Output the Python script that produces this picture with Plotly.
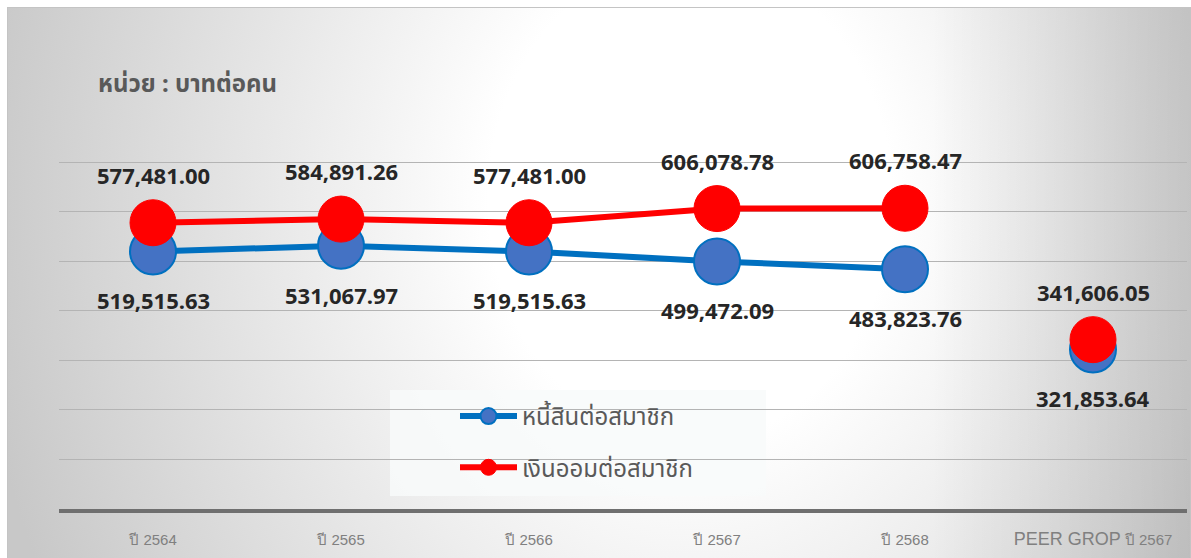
import base64
import plotly.graph_objects as go

categories = ["ปี 2564", "ปี 2565", "ปี 2566", "ปี 2567", "ปี 2568", "PEER GROP ปี 2567"]
tick_labels = ["ปี 2564", "ปี 2565", "ปี 2566", "ปี 2567", "ปี 2568",
               "<span style='font-family:Liberation Sans;font-size:18px'>PEER GROP</span> ปี 2567"]
debt_per_member = [519515.63, 531067.97, 519515.63, 499472.09, 483823.76, 321853.64]
savings_per_member = [577481.00, 584891.26, 577481.00, 606078.78, 606758.47, 341606.05]
series_names = ["หนี้สินต่อสมาชิก", "เงินออมต่อสมาชิก"]
unit_title = "หน่วย : บาทต่อคน"

W, H = 1191, 558
L, R, T, B = 59, 4, 130, 49
PW, PH = W - L - R, H - T - B

BLUE_LINE = "#0070C0"
BLUE_FILL = "#4472C4"
RED = "#FF0000"

fig = go.Figure()

main_n = 5
fig.add_trace(go.Scatter(
    x=categories[:main_n], y=debt_per_member[:main_n], name=series_names[0],
    mode="lines+markers", legendgroup="a",
    line=dict(color=BLUE_LINE, width=6),
    marker=dict(size=46, color=BLUE_FILL, line=dict(color=BLUE_LINE, width=2)),
    hoverinfo="skip"))
fig.add_trace(go.Scatter(
    x=categories[main_n:], y=debt_per_member[main_n:], name=series_names[0],
    mode="markers", legendgroup="a", showlegend=False,
    marker=dict(size=46, color=BLUE_FILL, line=dict(color=BLUE_LINE, width=2)),
    hoverinfo="skip"))
fig.add_trace(go.Scatter(
    x=categories[:main_n], y=savings_per_member[:main_n], name=series_names[1],
    mode="lines+markers", legendgroup="b",
    line=dict(color=RED, width=6),
    marker=dict(size=46, color=RED, line=dict(color=RED, width=1)),
    hoverinfo="skip"))
fig.add_trace(go.Scatter(
    x=categories[main_n:], y=savings_per_member[main_n:], name=series_names[1],
    mode="markers", legendgroup="b", showlegend=False,
    marker=dict(size=46, color=RED, line=dict(color=RED, width=1)),
    hoverinfo="skip"))

LABEL_FONT = dict(family="Open Sans, Liberation Sans, sans-serif", size=22, color="#262626")
annotations = []
for c, v in zip(categories, savings_per_member):
    annotations.append(dict(x=c, y=v, xref="x", yref="y", text=f"<b>{v:,.2f}</b>",
                            showarrow=False, yshift=48, font=LABEL_FONT))
for c, v in zip(categories, debt_per_member):
    annotations.append(dict(x=c, y=v, xref="x", yref="y", text=f"<b>{v:,.2f}</b>",
                            showarrow=False, yshift=-49, font=LABEL_FONT))
annotations.append(dict(x=(96 - L) / PW, y=(H - B - 83) / PH, xref="paper", yref="paper",
                        xanchor="left", yanchor="middle", text=f"<b>{unit_title}</b>",
                        showarrow=False,
                        font=dict(family="Noto Sans, Noto Sans Thai, sans-serif", size=24, color="#595959")))

svg = """<svg xmlns='http://www.w3.org/2000/svg' width='1184' height='551' viewBox='0 0 1184 551' preserveAspectRatio='none'>
<defs>
<radialGradient id='g' gradientUnits='userSpaceOnUse' cx='683' cy='193' r='720' fx='683' fy='193'
 gradientTransform='translate(683 193) scale(1 1.2) translate(-683 -193)'>
<stop offset='0' stop-color='#ffffff'/><stop offset='0.28' stop-color='#ffffff'/>
<stop offset='1' stop-color='#c8c8c8'/></radialGradient>
<linearGradient id='d' x1='0' y1='0' x2='1' y2='0'>
<stop offset='0' stop-color='#000' stop-opacity='0'/>
<stop offset='0.78' stop-color='#000' stop-opacity='0'/>
<stop offset='1' stop-color='#000' stop-opacity='0.12'/></linearGradient>
</defs>
<rect x='0' y='0' width='1184' height='551' fill='url(#g)'/>
<rect x='0' y='0' width='1184' height='551' fill='url(#d)'/>
<rect x='0.5' y='0.5' width='1183' height='560' fill='none' stroke='#c4c4c4' stroke-width='1'/>
</svg>"""
src = "data:image/svg+xml;base64," + base64.b64encode(svg.encode()).decode()

ymax = 764600
fig.update_layout(
    width=W, height=H,
    margin=dict(l=L, r=R, t=T, b=B),
    paper_bgcolor="white", plot_bgcolor="rgba(0,0,0,0)",
    showlegend=True,
    legend=dict(x=(455 - L) / PW, y=(H - B - 394) / PH, xanchor="left", yanchor="top",
                bgcolor="rgba(0,0,0,0)", traceorder="grouped", tracegroupgap=17,
                itemwidth=57,
                font=dict(family="Noto Sans, Noto Sans Thai, sans-serif", size=24, color="#595959")),
    images=[dict(source=src, xref="paper", yref="paper", x=(7 - L) / PW, y=(H - B - 7) / PH,
                 sizex=(W - 7) / PW, sizey=(H - 7) / PH, xanchor="left", yanchor="top",
                 sizing="stretch", layer="below")],
    shapes=[dict(type="rect", xref="paper", yref="paper",
                 x0=(390 - L) / PW, x1=(766 - L) / PW, y0=(H - B - 496) / PH, y1=(H - B - 390) / PH,
                 fillcolor="rgba(248,250,250,0.85)", line=dict(width=0), layer="below")],
    annotations=annotations,
    xaxis=dict(type="category", tickmode="array", tickvals=categories, ticktext=tick_labels,
               showgrid=False, showline=True, linecolor="#6f6f6f", linewidth=4,
               ticks="outside", ticklen=14, tickcolor="rgba(0,0,0,0)",
               tickfont=dict(family="Liberation Sans Narrow, Liberation Sans, sans-serif", size=15, color="#808080"),
               range=[-0.5, 5.5], fixedrange=True),
    yaxis=dict(range=[0, ymax], dtick=100000, showgrid=True, gridcolor="#b4b4b4", gridwidth=1,
               zeroline=False, showticklabels=False, ticks="", fixedrange=True),
)

fig.write_html("out.html", config={"displayModeBar": False},
               post_script="document.body.style.margin='0';")
